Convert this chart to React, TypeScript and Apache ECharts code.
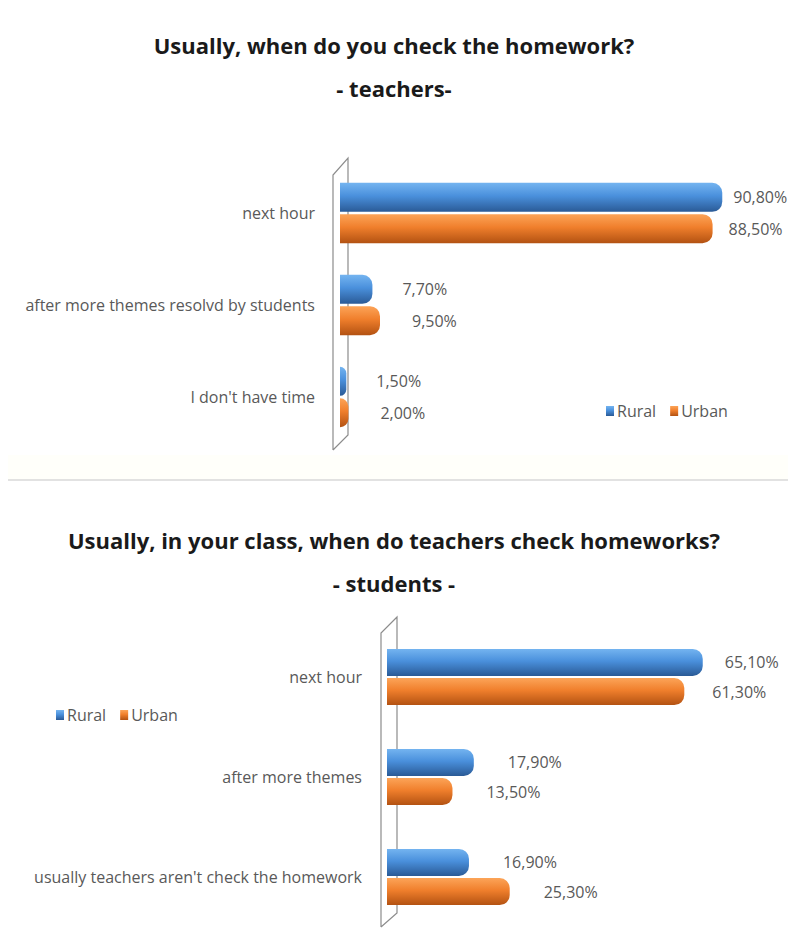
import React, { useEffect, useRef } from "react";
import * as echarts from "echarts";

const teacherCategories = ["next hour", "after more themes resolvd by students", "I don't have time"];
const teacherRural = [90.8, 7.7, 1.5];
const teacherUrban = [88.5, 9.5, 2.0];

const studentCategories = ["next hour", "after more themes", "usually teachers aren't check the homework"];
const studentRural = [65.1, 17.9, 16.9];
const studentUrban = [61.3, 13.5, 25.3];

const seriesNames = ["Rural", "Urban"];

const FONT = "'Open Sans', 'Noto Sans', sans-serif";
const GRAY = "#595959";

const blueGrad = () =>
  new echarts.graphic.LinearGradient(0, 0, 0, 1, [
    { offset: 0, color: "#74b4f0" },
    { offset: 0.45, color: "#4a90dc" },
    { offset: 1, color: "#2a5a96" },
  ]);
const orangeGrad = () =>
  new echarts.graphic.LinearGradient(0, 0, 0, 1, [
    { offset: 0, color: "#fca458" },
    { offset: 0.45, color: "#f07f2c" },
    { offset: 1, color: "#b35212" },
  ]);

const fmt = (p: any) => Number(p.value).toFixed(2).replace(".", ",") + "%";

export default function App() {
  const ref = useRef<HTMLDivElement>(null);
  useEffect(() => {
    document.body.style.margin = "0";
    if (!ref.current) return;
    const chart = echarts.init(ref.current, undefined, { renderer: "svg" });
    const titleStyle = { fontFamily: FONT, fontSize: 22, fontWeight: "bold" as const, color: "#1a1a1a" };
    const axisLabel = {
      color: GRAY,
      fontFamily: FONT,
      fontSize: 16,
      margin: 25,
      padding: [18, 0, 0, 0],
    };
    const valLabel = (distance: number) => ({
      show: true,
      position: "right" as const,
      distance,
      color: GRAY,
      fontFamily: FONT,
      fontSize: 16,
      formatter: fmt,
    });
    const legendStyle = {
      icon: "rect",
      itemWidth: 8,
      itemHeight: 10,
      itemGap: 14,
      textStyle: { color: GRAY, fontFamily: FONT, fontSize: 16, padding: [0, 0, 0, -2] },
    };
    const bar = (
      name: string,
      values: number[],
      idx: number,
      color: any,
      width: number,
      dist: number,
      bigDist: number
    ) => ({
      name,
      type: "bar",
      xAxisIndex: idx,
      yAxisIndex: idx,
      data: values.map((v) => (v > 50 ? { value: v, label: { distance: bigDist } } : v)),
      barWidth: width,
      barGap: "8%",
      itemStyle: { color, borderRadius: [0, 10, 10, 0] },
      label: valLabel(dist),
    });
    chart.setOption({
      animation: false,
      backgroundColor: "#ffffff",
      title: [
        { text: "Usually, when do you check the homework?", left: "center", top: 29, textStyle: titleStyle },
        { text: "- teachers-", left: "center", top: 72, textStyle: titleStyle },
        { text: "Usually, in your class, when do teachers check homeworks?", left: "center", top: 524, textStyle: titleStyle },
        { text: "- students -", left: "center", top: 567, textStyle: titleStyle },
      ],
      legend: [
        { data: seriesNames, left: 601, top: 398, ...legendStyle },
        { data: seriesNames, left: 51, top: 702, ...legendStyle },
      ],
      grid: [
        { left: 340, top: 167, width: 421, height: 276 },
        { left: 387, top: 627, width: 388, height: 300 },
      ],
      xAxis: [
        { type: "value", gridIndex: 0, min: 0, max: 100, show: false, splitLine: { show: false } },
        { type: "value", gridIndex: 1, min: 0, max: 80, show: false, splitLine: { show: false } },
      ],
      yAxis: [
        {
          type: "category",
          gridIndex: 0,
          inverse: true,
          data: teacherCategories,
          axisLine: { show: false },
          axisTick: { show: false },
          axisLabel,
        },
        {
          type: "category",
          gridIndex: 1,
          inverse: true,
          data: studentCategories,
          axisLine: { show: false },
          axisTick: { show: false },
          axisLabel,
        },
      ],
      graphic: [
        {
          type: "rect",
          silent: true,
          z: -10,
          shape: { x: 8, y: 455, width: 780, height: 25 },
          style: { fill: "#fffffa" },
        },
        {
          type: "polyline",
          silent: true,
          z: -1,
          shape: { points: [[333, 450], [333, 175], [348, 158], [348, 435], [333, 450]] },
          style: { stroke: "#8c8c8c", lineWidth: 1.2, fill: "none" },
        },
        {
          type: "polyline",
          silent: true,
          z: -1,
          shape: { points: [[381, 927], [381, 633], [397, 617], [397, 913], [381, 927]] },
          style: { stroke: "#8c8c8c", lineWidth: 1.2, fill: "none" },
        },
        {
          type: "line",
          silent: true,
          shape: { x1: 8, y1: 480, x2: 788, y2: 480 },
          style: { stroke: "#d9d9d9", lineWidth: 1.5 },
        },
      ],
      series: [
        bar(seriesNames[0], teacherRural, 0, blueGrad(), 29, 30, 11),
        bar(seriesNames[1], teacherUrban, 0, orangeGrad(), 29, 32, 16),
        bar(seriesNames[0], studentRural, 1, blueGrad(), 27, 34, 22),
        bar(seriesNames[1], studentUrban, 1, orangeGrad(), 27, 34, 28),
      ],
    });
    return () => chart.dispose();
  }, []);
  return <div ref={ref} style={{ position: "absolute", left: 0, top: 0, width: 788, height: 929 }} />;
}
